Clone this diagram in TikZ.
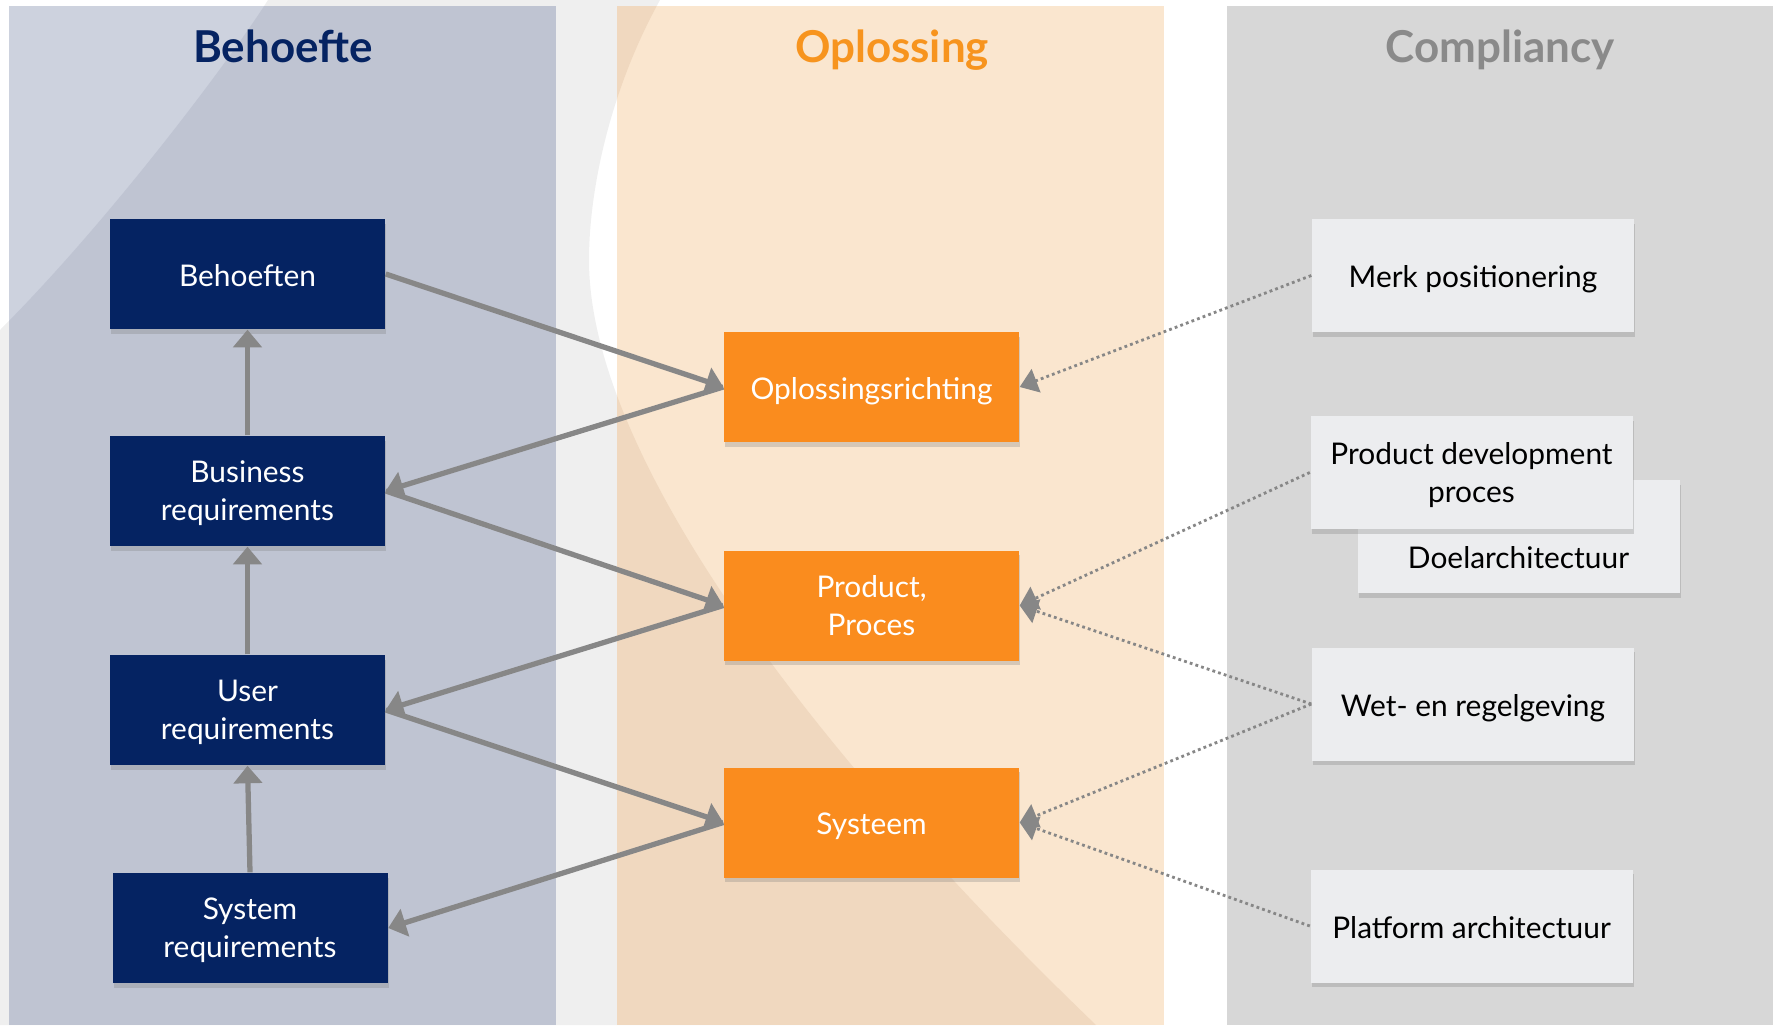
\documentclass[tikz,border=0pt]{standalone}
\usepackage{fontspec}
\setmainfont{Lato}
\usetikzlibrary{arrows.meta}
\usetikzlibrary{shadows}

\definecolor{navyblue}{RGB}{5,35,98}
\definecolor{solorange}{RGB}{250,140,30}
\definecolor{titleorange}{RGB}{247,148,30}
\definecolor{titlegray}{RGB}{138,138,138}
\definecolor{boxgray}{RGB}{236,237,239}
\definecolor{linegray}{RGB}{135,135,135}
\definecolor{bggray}{RGB}{239,239,239}
\definecolor{behlight}{RGB}{205,210,222}
\definecolor{behdark}{RGB}{191,196,210}
\definecolor{opllight}{RGB}{250,230,207}
\definecolor{opldark}{RGB}{240,216,191}
\definecolor{compgray}{RGB}{215,215,215}

\newcommand{\boxfont}{\fontsize{8.5}{10.8}\selectfont}
\newcommand{\titlefont}{\fontsize{12.5}{15}\selectfont\bfseries}
\newcommand{\bgswoosh}{(2.68,0) .. controls (2.30,0.60) and (1.10,2.20) .. (0,3.30)
  -- (0,10.25) -- (10.96,10.25) .. controls (8.20,7.60) and (5.89,4.60) .. (5.89,2.60)
  .. controls (5.89,1.90) and (6.10,0.90) .. (6.60,0) -- cycle}

\tikzset{
  coltitle/.style={anchor=base, font=\titlefont},
  boxshadow/.style={drop shadow={shadow xshift=0.4pt, shadow yshift=-1.3pt, opacity=0.3}},
  reqbox/.style={fill=navyblue, text=white, minimum width=2.75cm, minimum height=1.10cm,
    inner sep=0pt, align=center, font=\boxfont, boxshadow},
  solbox/.style={fill=solorange, text=white, minimum width=2.95cm, minimum height=1.10cm,
    inner sep=0pt, align=center, font=\boxfont, boxshadow},
  compbox/.style={fill=boxgray, text=black, minimum width=3.22cm, minimum height=1.13cm,
    inner sep=0pt, align=center, font=\boxfont, boxshadow},
  singletext/.style={text height=9pt, text depth=2pt},
  doubletext/.style={text depth=0pt},
  flow/.style={draw=linegray, line width=1.5pt, -{Triangle[length=5pt,width=8pt]}},
  trace/.style={draw=linegray, line width=0.8pt, dash pattern=on 0.8pt off 0.9pt,
    -{Triangle[length=5pt,width=7pt]}}
}

\begin{document}
\begin{tikzpicture}[y=-1cm]
\useasboundingbox (0,0) rectangle (17.79,10.25);

% achtergrond
\fill[bggray] \bgswoosh;
\fill[behlight] (0.09,0.06) rectangle (5.56,10.25);
\fill[opllight] (6.17,0.06) rectangle (11.64,10.25);
\fill[compgray] (12.27,0.06) rectangle (17.73,10.25);
\begin{scope}
  \clip \bgswoosh;
  \fill[behdark] (0.09,0.06) rectangle (5.56,10.25);
  \fill[opldark] (6.17,0.06) rectangle (11.64,10.25);
\end{scope}

% kolomtitels
\node[coltitle, text=navyblue] (tbehoefte) at (2.83,0.625) {Behoefte};
\node[coltitle, text=titleorange] (toplossing) at (8.92,0.625) {Oplossing};
\node[coltitle, text=titlegray] (tcompliancy) at (15.00,0.625) {Compliancy};

% behoefte
\node[reqbox, singletext] (beh) at (2.475,2.74) {Behoeften};
\node[reqbox, doubletext] (bus) at (2.475,4.91) {Business\\requirements};
\node[reqbox, doubletext] (usr) at (2.475,7.10) {User\\requirements};
\node[reqbox, doubletext] (sys) at (2.50,9.28) {System\\requirements};

% oplossing
\node[solbox, singletext] (opl) at (8.715,3.87) {Oplossingsrichting};
\node[solbox, doubletext] (prd) at (8.715,6.055) {Product,\\Proces};
\node[solbox, singletext] (stm) at (8.715,8.225) {Systeem};

% compliancy
\node[compbox, singletext] (merk) at (14.73,2.755) {Merk positionering};
\node[compbox, text height=0.63cm, text depth=0pt] (doel) at (15.185,5.365) {Doelarchitectuur};
\node[compbox, doubletext] (pdp) at (14.715,4.725) {Product development\\proces};
\node[compbox, singletext] (wet) at (14.73,7.04) {Wet- en regelgeving};
\node[compbox, singletext] (plat) at (14.715,9.26) {Platform architectuur};

\draw[flow] (bus.north) -- (beh.south);
\draw[flow] (usr.north) -- (bus.south);
\draw[flow] (sys.north) -- (usr.south);

\draw[flow] (beh.east) -- (opl.west);
\draw[flow] (opl.west) -- (bus.east);
\draw[flow] (bus.east) -- (prd.west);
\draw[flow] (prd.west) -- (usr.east);
\draw[flow] (usr.east) -- (stm.west);
\draw[flow] (stm.west) -- (sys.east);

\draw[trace] (merk.west) -- (opl.east);
\draw[trace] (pdp.west) -- (prd.east);
\draw[trace] (wet.west) -- (prd.east);
\draw[trace] (wet.west) -- (stm.east);
\draw[trace] (plat.west) -- (stm.east);

\end{tikzpicture}
\end{document}
